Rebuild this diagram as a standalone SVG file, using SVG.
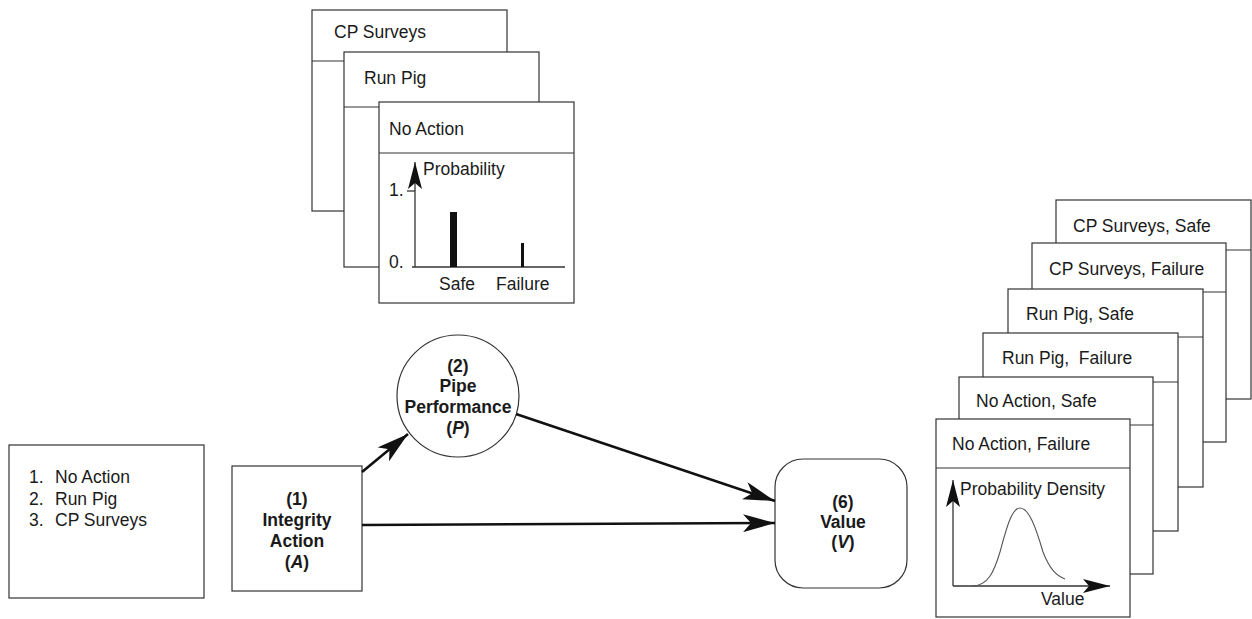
<svg xmlns="http://www.w3.org/2000/svg" width="1252" height="619" viewBox="0 0 1252 619">
<defs>
<style>
.card{fill:#fff;stroke:#333;stroke-width:1.2}
.ln{stroke:#333;stroke-width:1.2;fill:none}
.t{font-family:"Liberation Sans",Arial,sans-serif;font-size:17.5px;fill:#1a1a1a}
.b{font-family:"Liberation Sans",Arial,sans-serif;font-size:17.5px;font-weight:bold;fill:#1a1a1a;text-anchor:middle}
.conn{stroke:#111;stroke-width:2.6;fill:none}
.axis{stroke:#333;stroke-width:1.3;fill:none}
</style>
<marker id="ah" viewBox="0 0 32 18" refX="32" refY="9" markerWidth="32" markerHeight="18" markerUnits="userSpaceOnUse" orient="auto">
<path d="M0,0 L32,9 L0,18 L8,9 Z" fill="#111"/>
</marker>
<marker id="ax" viewBox="0 0 27 14" refX="27" refY="7" markerWidth="27" markerHeight="14" markerUnits="userSpaceOnUse" orient="auto">
<path d="M0,0 L27,7 L0,14 L6,7 Z" fill="#111"/>
</marker>
</defs>
<rect width="1252" height="619" fill="#fff"/>

<g id="action-list">
<rect class="card" x="9" y="445" width="195" height="153"/>
<text class="t" x="29" y="483">1.</text><text class="t" x="55" y="483">No Action</text>
<text class="t" x="29" y="505">2.</text><text class="t" x="55" y="505">Run Pig</text>
<text class="t" x="29" y="526">3.</text><text class="t" x="55" y="526">CP Surveys</text>
</g>

<g id="probability-tables">
<g id="card-cp-surveys">
<rect class="card" x="312" y="10" width="195" height="201"/>
<line class="ln" x1="312" y1="61" x2="507" y2="61"/>
<text class="t" x="334" y="38">CP Surveys</text>
</g>
<g id="card-run-pig">
<rect class="card" x="344" y="52" width="195" height="215"/>
<line class="ln" x1="344" y1="107" x2="539" y2="107"/>
<text class="t" x="364" y="84">Run Pig</text>
</g>
<g id="card-no-action">
<rect class="card" x="379" y="102" width="195" height="201"/>
<line class="ln" x1="379" y1="153" x2="574" y2="153"/>
<text class="t" x="389" y="135">No Action</text>
<line class="axis" x1="415" y1="267" x2="415" y2="162" marker-end="url(#ax)"/>
<line class="axis" x1="412" y1="267" x2="565" y2="267"/>
<line class="axis" x1="407" y1="191" x2="415" y2="191"/>
<text class="t" x="423" y="175">Probability</text>
<text class="t" x="389" y="196">1.</text>
<text class="t" x="389" y="268">0.</text>
<rect x="450" y="212" width="7" height="55" fill="#111"/>
<rect x="521" y="243" width="3" height="24" fill="#111"/>
<text class="t" x="439" y="290">Safe</text>
<text class="t" x="496" y="290">Failure</text>
</g>
</g>

<g id="node-integrity-action">
<rect class="card" x="232" y="466" width="130" height="125"/>
<text class="b" x="297" y="505">(1)</text>
<text class="b" x="297" y="526">Integrity</text>
<text class="b" x="297" y="547">Action</text>
<text class="b" x="297" y="568">(<tspan font-style="italic">A</tspan>)</text>
</g>

<g id="node-pipe-performance">
<circle class="card" cx="458" cy="396" r="61"/>
<text class="b" x="458" y="372">(2)</text>
<text class="b" x="458" y="392">Pipe</text>
<text class="b" x="458" y="413">Performance</text>
<text class="b" x="458" y="434">(<tspan font-style="italic">P</tspan>)</text>
</g>

<g id="node-value">
<rect class="card" x="775" y="459" width="132" height="129" rx="28" ry="28"/>
<text class="b" x="843" y="508">(6)</text>
<text class="b" x="843" y="528">Value</text>
<text class="b" x="843" y="548">(<tspan font-style="italic">V</tspan>)</text>
</g>

<g id="connectors">
<line class="conn" x1="362" y1="472" x2="408" y2="434" marker-end="url(#ah)"/>
<line class="conn" x1="516" y1="414" x2="775" y2="501" marker-end="url(#ah)"/>
<line class="conn" x1="362" y1="525" x2="775" y2="523" marker-end="url(#ah)"/>
</g>

<g id="value-distributions">
<g id="card-cp-safe">
<rect class="card" x="1056" y="200" width="195" height="199"/>
<line class="ln" x1="1056" y1="250" x2="1251" y2="250"/>
<text class="t" x="1073" y="232">CP Surveys, Safe</text>
</g>
<g id="card-cp-failure">
<rect class="card" x="1032" y="243" width="194" height="199"/>
<line class="ln" x1="1032" y1="292" x2="1226" y2="292"/>
<text class="t" x="1049" y="275">CP Surveys, Failure</text>
</g>
<g id="card-pig-safe">
<rect class="card" x="1008" y="289" width="195" height="198"/>
<line class="ln" x1="1008" y1="337" x2="1203" y2="337"/>
<text class="t" x="1026" y="320">Run Pig, Safe</text>
</g>
<g id="card-pig-failure">
<rect class="card" x="983" y="333" width="195" height="198"/>
<line class="ln" x1="983" y1="382" x2="1178" y2="382"/>
<text class="t" x="1002" y="364" xml:space="preserve">Run Pig,  Failure</text>
</g>
<g id="card-na-safe">
<rect class="card" x="959" y="377" width="194" height="197"/>
<line class="ln" x1="959" y1="425" x2="1153" y2="425"/>
<text class="t" x="976" y="407">No Action, Safe</text>
</g>
<g id="card-na-failure">
<rect class="card" x="936" y="419" width="194" height="198"/>
<line class="ln" x1="936" y1="468" x2="1130" y2="468"/>
<text class="t" x="952" y="450">No Action, Failure</text>
<line class="axis" x1="953" y1="586" x2="953" y2="480" marker-end="url(#ax)"/>
<line class="axis" x1="953" y1="586" x2="1110" y2="586" marker-end="url(#ax)"/>
<text class="t" x="960" y="495">Probability Density</text>
<path d="M972,586 C988,586 994,572 1000,552 C1007,526 1012,508 1020,508 C1029,508 1036,528 1043,552 C1050,570 1057,576 1065,579" fill="none" stroke="#555" stroke-width="1.1"/>
<text class="t" x="1041" y="605">Value</text>
</g>
</g>
</svg>
